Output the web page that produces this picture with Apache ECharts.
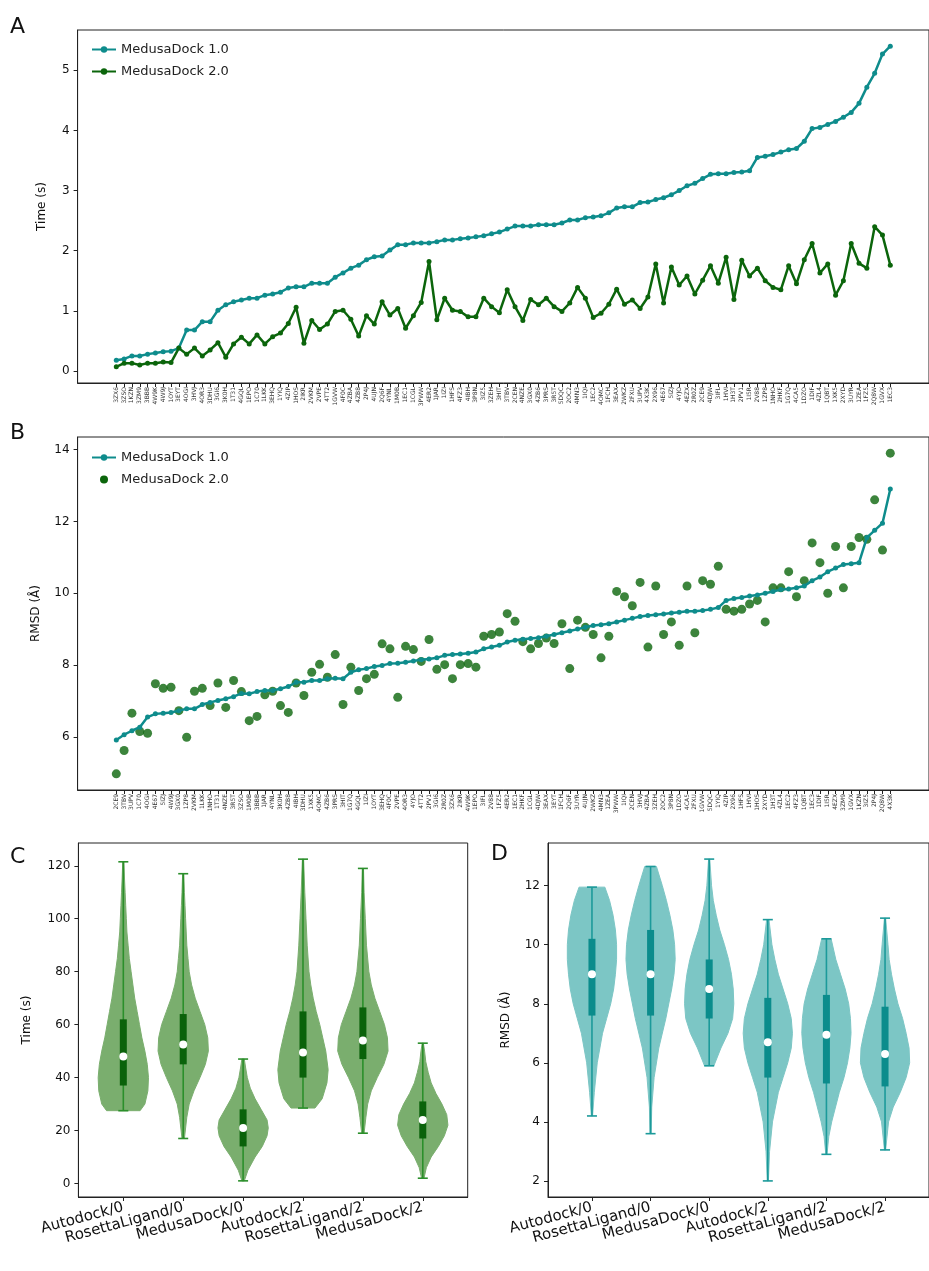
<!DOCTYPE html>
<html>
<head>
<meta charset="utf-8">
<script src="https://cdn.jsdelivr.net/npm/echarts@6/dist/echarts.min.js"></script>
<style>
html, body { margin: 0; padding: 0; background: #fff; }
#main { width: 929px; height: 1271px; }
</style>
</head>
<body>
<div id="main"></div>
<script>
// ---- panel A : docking time per complex ----
var pdbA = ['3ZX6','3ZSO','1KZN','3ZM9','3BBB','4W9K','4W9J','1OYT','3EYT','4OGI',
  '3HVJ','4OR3','3DHU','3GI6','3K0H','1T31','4GQL','1EPO','1C70','1LKK',
  '3EHQ','1YIQ','4ZIP','1HOS','2IKR','2VKM','2VPE','4TT2','1GVW','4F0C',
  '4ZBA','4ZB8','2P4J','4UJN','2Q6F','4YNL','1M0B','1EC1','1CGL','3PWW',
  '4ER2','1JAR','1IZI','1HFS','4FZ3','4IBH','3P8N','3IZ5','3ZEH','3HIT',
  '3TBV','2CEN','4NZE','3GX0','4ZB6','3PRS','3R5T','5DQC','2OC2','4MN3',
  '1IQI','1EC2','4OMC','1FCH','3EAX','2WKZ','2FXU','3UPV','4X3K','2X96',
  '4E67','5IZJ','4YJO','4EZX','2R0Z','2CE9','4DJW','3IFL','1HVI','1H3T',
  '2PV1','1I5R','2V88','1ZP8','1NHO','2HKF','1G7Q','4CA5','1DZO','1DIF',
  '4ZL4','1QBT','1XK5','2XYD','3UYR','1ZEA','1FZ5','2Q8W','1GVX','1EC3'];
var timeMD1 = [0.18,0.20,0.25,0.25,0.28,0.30,0.32,0.33,0.38,0.68,
  0.68,0.82,0.82,1.01,1.10,1.15,1.18,1.21,1.21,1.26,
  1.28,1.31,1.38,1.40,1.40,1.46,1.46,1.46,1.56,1.63,
  1.71,1.76,1.85,1.90,1.91,2.01,2.10,2.10,2.13,2.13,
  2.13,2.15,2.18,2.18,2.20,2.21,2.23,2.25,2.28,2.31,
  2.36,2.41,2.41,2.41,2.43,2.43,2.43,2.46,2.51,2.51,
  2.55,2.56,2.58,2.63,2.71,2.73,2.73,2.80,2.81,2.85,
  2.88,2.93,3.00,3.08,3.12,3.20,3.27,3.28,3.28,3.30,
  3.31,3.33,3.55,3.57,3.60,3.64,3.68,3.70,3.82,4.03,
  4.05,4.10,4.15,4.22,4.30,4.45,4.72,4.95,5.27,5.40];
var timeMD2 = [0.07,0.13,0.13,0.10,0.13,0.13,0.15,0.14,0.38,0.28,
  0.38,0.25,0.35,0.47,0.23,0.45,0.56,0.45,0.60,0.45,
  0.57,0.63,0.79,1.06,0.46,0.84,0.69,0.78,0.99,1.01,
  0.86,0.58,0.92,0.78,1.15,0.93,1.04,0.71,0.92,1.14,
  1.82,0.85,1.21,1.01,0.99,0.90,0.90,1.21,1.07,0.97,
  1.35,1.07,0.84,1.19,1.10,1.21,1.07,0.99,1.13,1.39,
  1.21,0.89,0.96,1.11,1.36,1.11,1.18,1.04,1.23,1.78,
  1.13,1.73,1.43,1.58,1.28,1.51,1.75,1.46,1.89,1.19,
  1.84,1.58,1.71,1.50,1.39,1.35,1.75,1.45,1.85,2.12,
  1.63,1.78,1.26,1.50,2.12,1.79,1.71,2.40,2.26,1.76];

// ---- panel B : RMSD per complex ----
var pdbB = ['2CE9','3TBV','3UPV','1C70','4OGI','4E67','5IZJ','4W9J','3GX0','1ZP8',
  '2VKM','1LKK','1NHO','1T31','4NZE','3R5T','3ZSO','1M0B','3BBB','1JAR',
  '4YNL','3K0H','4ZB8','4IBH','3DHU','1XK5','4OMC','4ZB6','3PRS','3HIT',
  '1G7Q','4GQL','1IZI','1OYT','3EHQ','4F0C','2VPE','4OR3','4YJO','4TT2',
  '2PV1','3GI6','2R0Z','3ZX6','2IKR','4W9K','1EPO','3IFL','2V88','1FZ5',
  '4ER2','1EC1','2HKF','1CGL','4DJW','3EAX','3EYT','1FCH','2Q6F','3UYR',
  '4UJN','2WKZ','4MN3','1ZEA','3PWW','1IQI','2CEN','3HVJ','4ZBA','3ZEH',
  '2OC2','3P8N','1DZO','4CA5','2FXU','1GVW','5DQC','1YIQ','4ZIP','2X96',
  '1HFS','1HVI','1HOS','2XYD','1H3T','4ZL4','1EC2','4FZ3','1QBT','1EC3',
  '1DIF','1I5R','4EZX','3ZM9','1GVX','1KZN','3IZ5','2P4J','2Q8W','4X3K'];
var rmsdMD1 = [5.91,6.06,6.17,6.27,6.55,6.64,6.66,6.68,6.73,6.78,
  6.78,6.90,6.96,7.01,7.06,7.12,7.21,7.20,7.26,7.29,
  7.29,7.34,7.40,7.52,7.52,7.57,7.57,7.62,7.63,7.62,
  7.80,7.87,7.90,7.96,7.99,8.04,8.05,8.08,8.11,8.15,
  8.17,8.20,8.27,8.29,8.31,8.33,8.36,8.45,8.50,8.55,
  8.64,8.69,8.72,8.74,8.76,8.80,8.85,8.90,8.95,9.00,
  9.05,9.10,9.12,9.15,9.20,9.25,9.30,9.35,9.38,9.40,
  9.42,9.45,9.47,9.50,9.50,9.52,9.55,9.60,9.80,9.85,
  9.88,9.92,9.95,10.00,10.05,10.10,10.12,10.15,10.20,10.35,
  10.45,10.60,10.70,10.80,10.82,10.85,11.55,11.75,11.95,12.90];
var rmsdMD2 = [4.97,5.62,6.66,6.15,6.10,7.48,7.35,7.38,6.73,5.99,
  7.27,7.35,6.87,7.50,6.82,7.57,7.26,6.45,6.57,7.17,
  7.27,6.87,6.68,7.50,7.15,7.80,8.02,7.66,8.29,6.90,
  7.94,7.29,7.62,7.74,8.59,8.45,7.10,8.52,8.43,8.10,
  8.71,7.88,8.01,7.62,8.01,8.04,7.94,8.80,8.85,8.92,
  9.43,9.22,8.65,8.45,8.60,8.75,8.60,9.15,7.90,9.25,
  9.05,8.85,8.20,8.80,10.05,9.90,9.65,10.30,8.50,10.20,
  8.85,9.20,8.55,10.20,8.90,10.35,10.25,10.75,9.55,9.50,
  9.55,9.70,9.80,9.20,10.15,10.15,10.60,9.90,10.35,11.40,
  10.85,10.00,11.30,10.15,11.30,11.55,11.50,12.60,11.20,13.90];

// ---- panels C and D : distributions per method ----
var methods = ['Autodock/0','RosettaLigand/0','MedusaDock/0','Autodock/2','RosettaLigand/2','MedusaDock/2'];
var timeMin = [27.5, 17, 1, 28.5, 19, 2];
var timeQ1  = [37, 45, 14, 40, 47, 17];
var timeMed = [48, 52.5, 21, 49.5, 54, 24];
var timeQ3  = [62, 64, 28, 65, 66.5, 31];
var timeMax = [121.5, 117, 47, 122.5, 119, 53];
var rmsdMin = [4.2, 3.6, 5.9, 2.0, 2.9, 3.05];
var rmsdQ1  = [7.6, 7.6, 7.5, 5.5, 5.3, 5.2];
var rmsdMed = [9.0, 9.0, 8.5, 6.7, 6.95, 6.3];
var rmsdQ3  = [10.2, 10.5, 9.5, 8.2, 8.3, 7.9];
var rmsdMax = [11.95, 12.65, 12.9, 10.85, 10.2, 10.9];

// violin outlines: [value, half width]
var timeShapeAD0 = [[27.5,0.28],[30,0.36],[35,0.41],[40,0.42],[45,0.40],[50,0.36],[55,0.31],[60,0.27],[65,0.23],[70,0.19],[75,0.16],[80,0.13],[85,0.10],[90,0.08],[95,0.06],[100,0.05],[105,0.04],[110,0.03],[115,0.02],[121.5,0.01]];
var timeShapeRL0 = [[17,0.02],[25,0.06],[30,0.10],[35,0.18],[40,0.28],[45,0.37],[50,0.42],[55,0.41],[60,0.36],[65,0.28],[70,0.20],[75,0.14],[80,0.10],[85,0.08],[90,0.06],[95,0.05],[100,0.04],[105,0.03],[110,0.02],[117,0.01]];
var timeShapeMD0 = [[1,0.02],[5,0.08],[10,0.20],[14,0.32],[18,0.40],[21,0.42],[24,0.40],[28,0.30],[32,0.20],[36,0.12],[40,0.07],[44,0.04],[47,0.02]];
var timeShapeAD2 = [[28.5,0.20],[32,0.32],[38,0.40],[43,0.42],[50,0.38],[55,0.33],[60,0.28],[65,0.22],[70,0.17],[75,0.13],[80,0.10],[90,0.07],[100,0.05],[110,0.03],[122.5,0.01]];
var timeShapeRL2 = [[19,0.02],[25,0.05],[30,0.08],[35,0.14],[40,0.24],[45,0.35],[50,0.42],[55,0.41],[60,0.36],[65,0.28],[70,0.20],[75,0.14],[80,0.10],[90,0.06],[100,0.04],[110,0.02],[119,0.01]];
var timeShapeMD2 = [[2,0.02],[6,0.06],[10,0.14],[14,0.26],[18,0.36],[22,0.42],[26,0.40],[30,0.32],[34,0.22],[38,0.14],[42,0.09],[46,0.05],[50,0.03],[53,0.01]];
var rmsdShapeAD0 = [[4.2,0.01],[5,0.04],[6,0.09],[7,0.18],[7.5,0.25],[8,0.32],[8.5,0.37],[9,0.40],[9.5,0.42],[10,0.42],[10.5,0.40],[11,0.36],[11.5,0.30],[11.95,0.22]];
var rmsdShapeRL0 = [[3.6,0.01],[4.5,0.02],[5.5,0.06],[6.5,0.14],[7.5,0.26],[8.5,0.36],[9,0.40],[9.5,0.42],[10,0.41],[10.5,0.38],[11,0.33],[11.5,0.27],[12,0.20],[12.65,0.10]];
var rmsdShapeMD0 = [[5.9,0.08],[6.5,0.20],[7,0.32],[7.5,0.40],[8,0.42],[8.5,0.41],[9,0.38],[9.5,0.33],[10,0.26],[10.5,0.18],[11,0.12],[11.5,0.07],[12,0.04],[12.9,0.01]];
var rmsdShapeAD2 = [[2.0,0.01],[3,0.03],[4,0.08],[5,0.18],[5.5,0.26],[6,0.34],[6.5,0.40],[7,0.42],[7.5,0.40],[8,0.34],[8.5,0.26],[9,0.18],[9.5,0.12],[10,0.07],[10.85,0.02]];
var rmsdShapeRL2 = [[2.9,0.01],[3.5,0.04],[4,0.09],[5,0.22],[5.5,0.30],[6,0.36],[6.5,0.40],[7,0.42],[7.5,0.41],[8,0.38],[8.5,0.32],[9,0.24],[9.5,0.16],[10.2,0.08]];
var rmsdShapeMD2 = [[3.05,0.01],[4,0.06],[4.5,0.14],[5,0.26],[5.5,0.36],[6,0.42],[6.5,0.41],[7,0.36],[7.5,0.30],[8,0.22],[8.5,0.16],[9,0.11],[9.5,0.07],[10,0.05],[10.9,0.01]];

var timeShapes = [timeShapeAD0, timeShapeRL0, timeShapeMD0, timeShapeAD2, timeShapeRL2, timeShapeMD2];
var rmsdShapes = [rmsdShapeAD0, rmsdShapeRL0, rmsdShapeMD0, rmsdShapeAD2, rmsdShapeRL2, rmsdShapeMD2];

var TEAL = '#0e8c8c';
var GREEN = '#0b650b';
var FONT = 'DejaVu Sans';

function idxList(n) {
  var a = [];
  for (var i = 0; i < n; i++) a.push(i);
  return a;
}

function violin(shapes, mins, q1s, meds, q3s, maxs, fill, whisk, box) {
  return function (params, api) {
    var pos = api.value(0);
    var k = pos - 1;
    var prof = shapes[k];
    var pts = [];
    for (var j = 0; j < prof.length; j++) pts.push(api.coord([pos - prof[j][1], prof[j][0]]));
    for (var j2 = prof.length - 1; j2 >= 0; j2--) pts.push(api.coord([pos + prof[j2][1], prof[j2][0]]));
    var lo = api.coord([pos, mins[k]]);
    var hi = api.coord([pos, maxs[k]]);
    var b1 = api.coord([pos, q1s[k]]);
    var b3 = api.coord([pos, q3s[k]]);
    var md = api.coord([pos, meds[k]]);
    var cap = 5;
    return {
      type: 'group',
      children: [
        { type: 'polygon', shape: { points: pts }, style: { fill: fill, stroke: fill, lineWidth: 1 } },
        { type: 'line', shape: { x1: lo[0], y1: lo[1], x2: hi[0], y2: hi[1] }, style: { stroke: whisk, lineWidth: 1.6 } },
        { type: 'line', shape: { x1: lo[0] - cap, y1: lo[1], x2: lo[0] + cap, y2: lo[1] }, style: { stroke: whisk, lineWidth: 1.6 } },
        { type: 'line', shape: { x1: hi[0] - cap, y1: hi[1], x2: hi[0] + cap, y2: hi[1] }, style: { stroke: whisk, lineWidth: 1.6 } },
        { type: 'line', shape: { x1: b1[0], y1: b1[1], x2: b3[0], y2: b3[1] }, style: { stroke: box, lineWidth: 7 } },
        { type: 'circle', shape: { cx: md[0], cy: md[1], r: 4 }, style: { fill: '#fff' } }
      ]
    };
  };
}

var chart = echarts.init(document.getElementById('main'));

function valueAxis(extra) {
  return Object.assign({
    type: 'value',
    axisLine: { show: true, onZero: false, lineStyle: { color: '#222', width: 1 } },
    splitLine: { show: false }
  }, extra);
}

function ticks(vals) {
  return { show: true, customValues: vals, length: 4, lineStyle: { color: '#222' } };
}

var option = {
  backgroundColor: '#fff',
  animation: false,
  textStyle: { fontFamily: FONT },
  grid: [
    { left: 77.6, top: 30, width: 861, height: 353, show: true, borderColor: '#222', borderWidth: 1 },
    { left: 77.6, top: 437, width: 861, height: 353, show: true, borderColor: '#222', borderWidth: 1 },
    { left: 78.4, top: 843, width: 389.3, height: 354, show: true, borderColor: '#222', borderWidth: 1 },
    { left: 548, top: 843, width: 392, height: 354, show: true, borderColor: '#222', borderWidth: 1 }
  ],
  xAxis: [
    valueAxis({ gridIndex: 0, min: -4.95, max: 103.95,
      axisTick: ticks(idxList(pdbA.length)),
      axisLabel: { customValues: idxList(pdbA.length), rotate: 90, fontSize: 6, margin: 4, color: '#333',
        formatter: function (v) { return pdbA[v]; } } }),
    valueAxis({ gridIndex: 1, min: -4.95, max: 103.95,
      axisTick: ticks(idxList(pdbB.length)),
      axisLabel: { customValues: idxList(pdbB.length), rotate: 90, fontSize: 6, margin: 4, color: '#333',
        formatter: function (v) { return pdbB[v]; } } }),
    valueAxis({ gridIndex: 2, min: 0.25, max: 6.75,
      axisTick: ticks([1, 2, 3, 4, 5, 6]),
      axisLabel: { customValues: [1, 2, 3, 4, 5, 6], rotate: 15, fontSize: 15, margin: 10, color: '#111',
        formatter: function (v) { return methods[v - 1]; } } }),
    valueAxis({ gridIndex: 3, min: 0.25, max: 6.75,
      axisTick: ticks([1, 2, 3, 4, 5, 6]),
      axisLabel: { customValues: [1, 2, 3, 4, 5, 6], rotate: 15, fontSize: 15, margin: 10, color: '#111',
        formatter: function (v) { return methods[v - 1]; } } })
  ],
  yAxis: [
    valueAxis({ gridIndex: 0, min: -0.2, max: 5.67, name: 'Time (s)', nameLocation: 'middle', nameGap: 30,
      nameTextStyle: { fontSize: 12, color: '#111' },
      axisTick: ticks([0, 1, 2, 3, 4, 5]),
      axisLabel: { customValues: [0, 1, 2, 3, 4, 5], fontSize: 12, color: '#111' } }),
    valueAxis({ gridIndex: 1, min: 4.52, max: 14.35, name: 'RMSD (Å)', nameLocation: 'middle', nameGap: 36,
      nameTextStyle: { fontSize: 12, color: '#111' },
      axisTick: ticks([6, 8, 10, 12, 14]),
      axisLabel: { customValues: [6, 8, 10, 12, 14], fontSize: 12, color: '#111' } }),
    valueAxis({ gridIndex: 2, min: -5.1, max: 128.6, name: 'Time (s)', nameLocation: 'middle', nameGap: 46,
      nameTextStyle: { fontSize: 12, color: '#111' },
      axisTick: ticks([0, 20, 40, 60, 80, 100, 120]),
      axisLabel: { customValues: [0, 20, 40, 60, 80, 100, 120], fontSize: 12, color: '#111' } }),
    valueAxis({ gridIndex: 3, min: 1.455, max: 13.445, name: 'RMSD (Å)', nameLocation: 'middle', nameGap: 36,
      nameTextStyle: { fontSize: 12, color: '#111' },
      axisTick: ticks([2, 4, 6, 8, 10, 12]),
      axisLabel: { customValues: [2, 4, 6, 8, 10, 12], fontSize: 12, color: '#111' } })
  ],
  legend: [
    { left: 86, top: 38, orient: 'vertical', itemGap: 9, itemWidth: 24, itemHeight: 8,
      textStyle: { fontSize: 13, color: '#222', fontFamily: FONT },
      data: ['MedusaDock 1.0', 'MedusaDock 2.0'] },
    { left: 86, top: 446, orient: 'vertical', itemGap: 9, itemWidth: 24, itemHeight: 8,
      textStyle: { fontSize: 13, color: '#222', fontFamily: FONT },
      data: ['MedusaDock 1.0', { name: 'MedusaDock 2.0', icon: 'circle' }] }
  ],
  graphic: [
    { type: 'text', left: 10, top: 16, style: { text: 'A', fontSize: 22, fill: '#111', fontFamily: FONT } },
    { type: 'text', left: 10, top: 422, style: { text: 'B', fontSize: 22, fill: '#111', fontFamily: FONT } },
    { type: 'text', left: 10, top: 846, style: { text: 'C', fontSize: 22, fill: '#111', fontFamily: FONT } },
    { type: 'text', left: 491, top: 843, style: { text: 'D', fontSize: 22, fill: '#111', fontFamily: FONT } }
  ],
  series: [
    { name: 'MedusaDock 1.0', type: 'line', xAxisIndex: 0, yAxisIndex: 0,
      data: timeMD1.map(function (v, i) { return [i, v]; }),
      symbol: 'circle', symbolSize: 5, lineStyle: { width: 2.5, color: TEAL }, itemStyle: { color: TEAL } },
    { name: 'MedusaDock 2.0', type: 'line', xAxisIndex: 0, yAxisIndex: 0,
      data: timeMD2.map(function (v, i) { return [i, v]; }),
      symbol: 'circle', symbolSize: 5, lineStyle: { width: 2.5, color: GREEN }, itemStyle: { color: GREEN } },
    { name: 'MedusaDock 1.0', type: 'line', xAxisIndex: 1, yAxisIndex: 1,
      data: rmsdMD1.map(function (v, i) { return [i, v]; }),
      symbol: 'circle', symbolSize: 5, lineStyle: { width: 2.5, color: TEAL }, itemStyle: { color: TEAL } },
    { name: 'MedusaDock 2.0', type: 'scatter', xAxisIndex: 1, yAxisIndex: 1,
      data: rmsdMD2.map(function (v, i) { return [i, v]; }),
      symbol: 'circle', symbolSize: 9, itemStyle: { color: GREEN } },
    { name: 'time violins', type: 'custom', xAxisIndex: 2, yAxisIndex: 2,
      data: timeMed.map(function (v, i) { return [i + 1, v]; }),
      encode: { x: 0, y: 1 },
      renderItem: violin(timeShapes, timeMin, timeQ1, timeMed, timeQ3, timeMax, '#7aae6e', '#2b8f2b', '#0a620a') },
    { name: 'rmsd violins', type: 'custom', xAxisIndex: 3, yAxisIndex: 3,
      data: rmsdMed.map(function (v, i) { return [i + 1, v]; }),
      encode: { x: 0, y: 1 },
      renderItem: violin(rmsdShapes, rmsdMin, rmsdQ1, rmsdMed, rmsdQ3, rmsdMax, '#7cc6c5', '#1c9a9a', '#0b8c8c') }
  ]
};

chart.setOption(option);
</script>
</body>
</html>
